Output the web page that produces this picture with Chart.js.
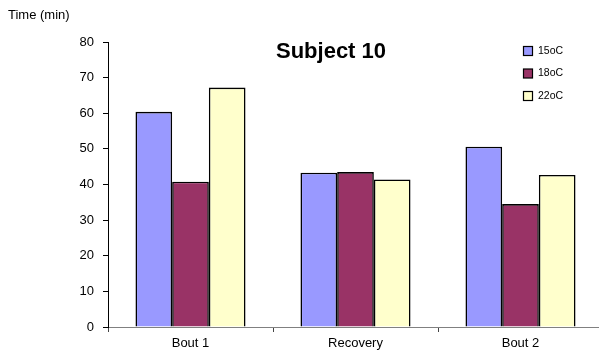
<!DOCTYPE html>
<html>
<head>
<meta charset="utf-8">
<script src="https://cdn.jsdelivr.net/npm/chart.js@4"></script>
<style>
  html, body { margin: 0; padding: 0; background: #fff; overflow: hidden; }
  #wrap { width: 599px; height: 358px; overflow: hidden; position: relative; }
  canvas { display: block; }
</style>
</head>
<body>
<div id="wrap"><canvas id="c" width="605" height="358"></canvas></div>
<script>
// Exercise time per phase at three room temperatures
const categories = ['Bout 1', 'Recovery', 'Bout 2'];
const seriesNames = ['15oC', '18oC', '22oC'];
const temp15 = [60.4, 43.3, 50.6];
const temp18 = [40.8, 43.5, 34.5];
const temp22 = [67.2, 41.4, 42.7];
const yTicks = [0, 10, 20, 30, 40, 50, 60, 70, 80];

const fills = ['#9999FF', '#993366', '#FFFFCC'];
const FONT = '"Liberation Sans", Arial, sans-serif';

// Title and legend sit inside the plot area, so draw them after the bars
const overlay = {
  id: 'overlay',
  afterDraw(chart) {
    const ctx = chart.ctx;
    ctx.save();
    ctx.fillStyle = '#000';
    ctx.font = 'bold 22px ' + FONT;
    ctx.textAlign = 'center';
    ctx.textBaseline = 'middle';
    ctx.fillText('Subject 10', 331, 52);

    ctx.font = '13px ' + FONT;
    ctx.textAlign = 'left';
    ctx.fillText('Time (min)', 8, 15);

    ctx.font = '10.5px ' + FONT;
    chart.data.datasets.forEach((ds, i) => {
      const y = 51 + i * 22.5;
      ctx.fillStyle = ds.backgroundColor;
      ctx.fillRect(523.5, y - 4.5, 9, 9);
      ctx.strokeStyle = '#000';
      ctx.lineWidth = 1.2;
      ctx.strokeRect(523.5, y - 4.5, 9, 9);
      ctx.fillStyle = '#000';
      ctx.fillText(ds.label, 538, y);
    });
    ctx.restore();
  }
};

const data = {
  labels: categories,
  datasets: [temp15, temp18, temp22].map((vals, i) => ({
    label: seriesNames[i],
    data: vals,
    backgroundColor: fills[i],
    borderColor: '#000',
    borderWidth: 1.6,
    categoryPercentage: 0.667,
    barPercentage: 1.0
  }))
};

new Chart(document.getElementById('c'), {
  type: 'bar',
  data: data,
  plugins: [overlay],
  options: {
    responsive: false,
    animation: false,
    layout: { padding: { left: 0, top: 42, right: 2, bottom: 0 } },
    plugins: {
      legend: { display: false },
      title: { display: false },
      tooltip: { enabled: false }
    },
    scales: {
      x: {
        grid: {
          display: true,
          drawOnChartArea: false,
          drawTicks: true,
          tickLength: 5,
          color: '#444',
          offset: true
        },
        border: { display: true, color: '#808080', width: 1 },
        ticks: {
          color: '#000',
          font: { family: FONT, size: 13 },
          padding: 4,
          maxRotation: 0
        },
        afterFit(scale) { scale.height = 31; }
      },
      y: {
        min: 0,
        max: 80,
        afterBuildTicks(scale) { scale.ticks = yTicks.map(v => ({ value: v })); },
        grid: {
          display: true,
          drawOnChartArea: false,
          drawTicks: true,
          tickLength: 5,
          color: '#000'
        },
        border: { display: true, color: '#000', width: 1 },
        ticks: {
          color: '#000',
          font: { family: FONT, size: 13 },
          padding: 9
        },
        afterFit(scale) { scale.width = 108; }
      }
    }
  }
});
</script>
</body>
</html>
